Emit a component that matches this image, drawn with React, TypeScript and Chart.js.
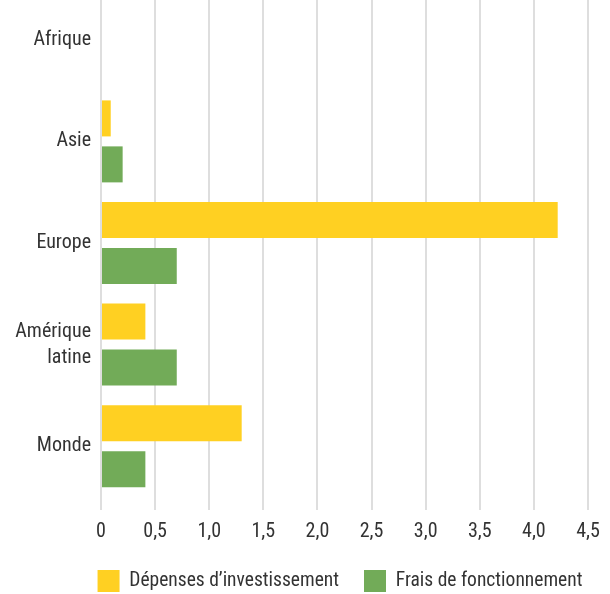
import React, { useEffect, useRef } from "react";
import { Chart, registerables } from "chart.js";

Chart.register(...registerables);

const categories: (string | string[])[] = ["Afrique", "Asie", "Europe", ["Amérique", "latine"], "Monde"];
const investissement = [0, 0.09, 4.22, 0.41, 1.3];
const fonctionnement = [0, 0.2, 0.7, 0.7, 0.41];
const seriesNames = ["Dépenses d’investissement", "Frais de fonctionnement"];
const xMin = 0;
const xMax = 4.5;
const xStep = 0.5;

const FONT = "'Liberation Sans Narrow', 'Roboto Condensed', 'DejaVu Sans Condensed', sans-serif";

const legendShift = {
  id: "legendShift",
  beforeDraw(chart: any) {
    const lg = chart.legend;
    if (lg) {
      lg.left = 40;
      lg.right = 640;
    }
  },
};

export default function App() {
  const ref = useRef<HTMLCanvasElement | null>(null);
  useEffect(() => {
    document.body.style.margin = "0";
    const canvas = ref.current;
    if (!canvas) return;
    const chart = new Chart(canvas, {
      type: "bar",
      data: {
        labels: categories,
        datasets: [
          {
            label: seriesNames[0],
            data: investissement,
            backgroundColor: "#FFD022",
            categoryPercentage: 0.905,
            barPercentage: 0.783,
          },
          {
            label: seriesNames[1],
            data: fonctionnement,
            backgroundColor: "#72AB58",
            categoryPercentage: 0.905,
            barPercentage: 0.783,
          },
        ],
      },
      options: {
        indexAxis: "y",
        animation: false,
        responsive: false,
        maintainAspectRatio: false,
        layout: { padding: { top: 0, right: 22, bottom: -8, left: 0 } },
        scales: {
          x: {
            min: xMin,
            max: xMax,
            grid: { color: "#dedede", lineWidth: 2, tickLength: 13, drawTicks: true },
            border: { display: false },
            ticks: {
              stepSize: xStep,
              padding: 10,
              color: "#333333",
              font: { family: FONT, size: 20 },
              callback: (v: any) => (Number(v) === 0 ? "0" : Number(v).toFixed(1).replace(".", ",")),
            },
            afterFit: (s: any) => {
              s.height = 48;
              s.paddingLeft = 0;
              s.paddingRight = 0;
            },
          },
          y: {
            grid: { display: false, drawTicks: false },
            border: { display: false },
            ticks: {
              padding: 10,
              color: "#333333",
              font: { family: FONT, size: 20, lineHeight: 1.3 },
            },
            afterFit: (s: any) => {
              s.width = 101;
              s.paddingTop = 0;
              s.paddingBottom = 0;
            },
          },
        },
        plugins: {
          legend: {
            position: "bottom",
            labels: {
              boxWidth: 22,
              boxHeight: 22,
              padding: 25,
              color: "#333333",
              font: { family: FONT, size: 19.5 },
            },
          },
          tooltip: { enabled: false },
        },
      },
      plugins: [legendShift],
    });
    return () => chart.destroy();
  }, []);
  return (
    <canvas
      ref={ref}
      width={610}
      height={605}
      style={{ display: "block", marginTop: "-11px" }}
    />
  );
}
